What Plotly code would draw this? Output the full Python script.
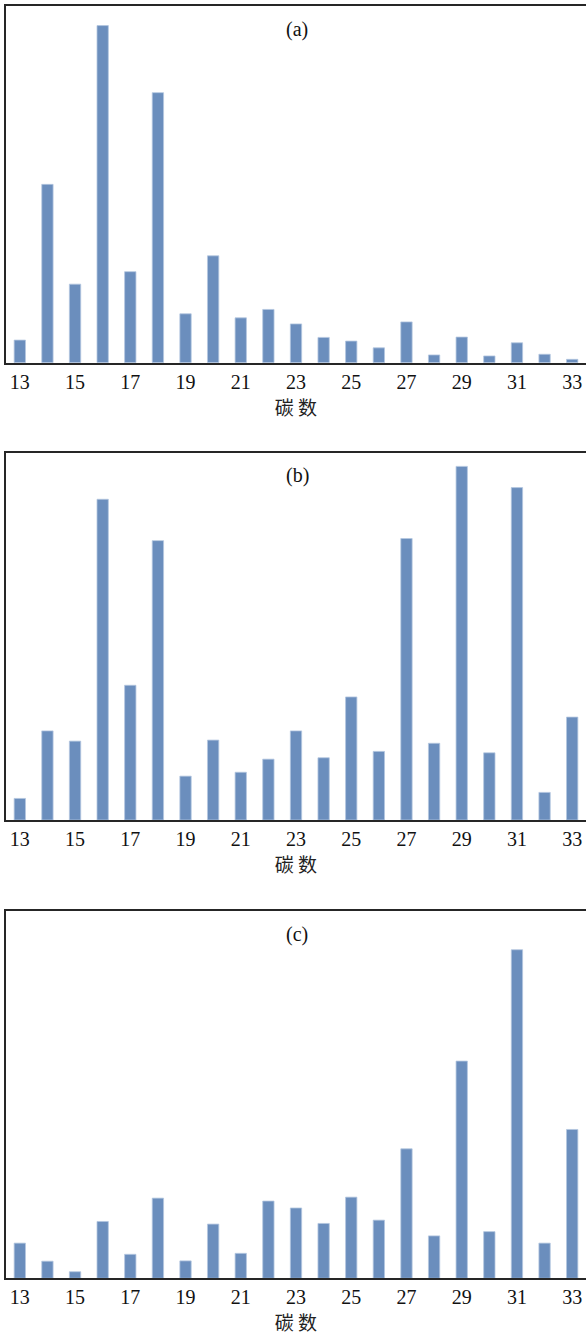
import plotly.graph_objects as go

# Carbon numbers on the x axis
carbon = list(range(13, 34))
tick_vals = list(range(13, 34, 2))

# Relative abundance of each homologue (largest peak = 100)
abund_a = [6.7, 52.9, 23.3, 100, 27.0, 80.1, 14.5, 31.7, 13.3, 15.8, 11.5,
           7.5, 6.4, 4.4, 12.1, 2.3, 7.6, 2.0, 5.9, 2.5, 1.0]
abund_b = [6.1, 25.2, 22.3, 90.7, 38.1, 79.0, 12.4, 22.6, 13.5, 17.2, 25.2,
           17.6, 34.8, 19.4, 79.6, 21.7, 100, 19.0, 94.0, 7.8, 29.1]
abund_c = [10.7, 5.2, 2.0, 17.3, 7.3, 24.4, 5.3, 16.5, 7.6, 23.5, 21.4,
           16.7, 24.7, 17.7, 39.4, 12.9, 66.1, 14.2, 100, 10.7, 45.3]

panels = [("(a)", abund_a, 105.9), ("(b)", abund_b, 103.7), ("(c)", abund_c, 111.7)]

W, H = 586, 1340
# vertical extent of each panel, in pixels from the top of the page
panel_px = [(5.7, 362.7), (453.3, 820.0), (911.3, 1278.3)]
label_px = [29, 475, 934]

BAR = "#6b8ebd"
AXIS = "#262626"
SERIF = "Liberation Serif, Times New Roman, serif"
CJK = "Noto Sans CJK SC, sans-serif"

fig = go.Figure()
layout = dict(
    width=W, height=H,
    margin=dict(l=0, r=0, t=0, b=0),
    paper_bgcolor="white", plot_bgcolor="white",
    showlegend=False,
    annotations=[],
)

for i, ((tag, vals, ymax), (top, bot), ly) in enumerate(zip(panels, panel_px, label_px)):
    n = "" if i == 0 else str(i + 1)
    fig.add_trace(go.Bar(
        x=carbon, y=vals, width=0.41,
        marker=dict(color=BAR, line=dict(color="#b4c6e0", width=0.8)),
        xaxis="x" + n, yaxis="y" + n,
    ))
    layout["xaxis" + n] = dict(
        domain=[6 / W, 1.0], range=[12.5, 33.5],
        anchor="y" + n,
        tickmode="array", tickvals=tick_vals,
        ticks="", showgrid=False, zeroline=False,
        showline=True, mirror=True, linecolor=AXIS, linewidth=2,
        tickfont=dict(family=SERIF, size=20, color="#111"),
        title=dict(text="碳 数", font=dict(family=CJK, size=19, color="#222"), standoff=9),
    )
    layout["yaxis" + n] = dict(
        domain=[1 - bot / H, 1 - top / H], range=[0, ymax],
        anchor="x" + n,
        showticklabels=False, ticks="", showgrid=False, zeroline=False,
        showline=True, linecolor=AXIS, linewidth=2,
    )
    layout["annotations"].append(dict(
        text=tag, xref="paper", yref="paper",
        x=297.5 / W, y=1 - ly / H, xanchor="center", yanchor="middle",
        showarrow=False, font=dict(family=SERIF, size=20, color="#111"),
    ))

fig.update_layout(**layout)
fig.write_html("out.html")
